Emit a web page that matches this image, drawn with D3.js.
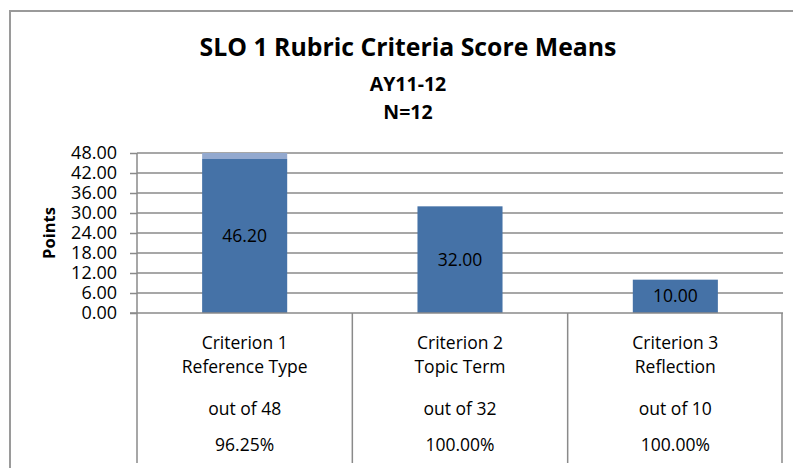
<!DOCTYPE html>
<html>
  <head>
    <meta charset="utf-8" />
    <title>SLO 1 Rubric Criteria Score Means</title>
    <script src="https://d3js.org/d3.v7.min.js"></script>
    <style>
      body { margin: 0; background: #fff; }
      text { font-family: "Open Sans", sans-serif; fill: #000; }
    </style>
  </head>
  <body>
    <svg id="chart" width="793" height="468"></svg>

    <script>
      // Datos
      const criteria = ["Criterion 1", "Criterion 2", "Criterion 3"];
      const topics = ["Reference Type", "Topic Term", "Reflection"];
      const meanScores = [46.2, 32.0, 10.0];
      const missingPoints = [1.8, 0, 0]; // parte clara encima de la barra
      const outOf = [48, 32, 10];
      const percents = ["96.25%", "100.00%", "100.00%"];
      const yTicks = [0, 6, 12, 18, 24, 30, 36, 42, 48];

      const svg = d3.select("#chart");
      const fs = "17.5px";

      // Marco exterior
      svg.append("rect")
        .attr("x", 10).attr("y", 11)
        .attr("width", 900).attr("height", 600)
        .attr("fill", "none")
        .attr("stroke", "#9a9a9a")
        .attr("stroke-width", 2);

      // Títulos
      const titles = [
        { t: "SLO 1 Rubric Criteria Score Means", y: 56, size: 24.8 },
        { t: "AY11-12", y: 91, size: 19.5 },
        { t: "N=12", y: 119, size: 19.5 }
      ];
      svg.selectAll(".title").data(titles).enter()
        .append("text")
        .attr("class", "title")
        .attr("x", 408)
        .attr("y", (d) => d.y)
        .attr("text-anchor", "middle")
        .style("font-weight", "bold")
        .style("font-size", (d) => d.size + "px")
        .text((d) => d.t);

      // Escalas
      const x = d3.scaleBand().domain(criteria).range([137, 783]).padding(0);
      const y = d3.scaleLinear().domain([0, 48]).range([313, 153]);
      const barW = x.bandwidth() * 0.395;

      // Líneas de cuadrícula
      svg.append("g")
        .selectAll("line")
        .data(yTicks.slice(1))
        .enter()
        .append("line")
        .attr("x1", 137).attr("x2", 783)
        .attr("y1", (d) => y(d)).attr("y2", (d) => y(d))
        .attr("stroke", "#8a8a8a")
        .attr("stroke-width", 1.5);

      // Eje Y
      const yAxis = svg.append("g")
        .attr("transform", "translate(137,0)")
        .call(d3.axisLeft(y).tickValues(yTicks).tickSize(7).tickPadding(13)
          .tickFormat(d3.format(".2f")));
      yAxis.select(".domain").remove();
      yAxis.selectAll(".tick line").attr("stroke", "#8a8a8a").attr("stroke-width", 1.5);
      yAxis.selectAll(".tick text")
        .style("font-size", "18px")
        .style("font-family", "'Open Sans', sans-serif")
        .attr("fill", "#000");

      svg.append("text")
        .attr("transform", "translate(49,233) rotate(-90)")
        .attr("text-anchor", "middle")
        .attr("dy", "0.35em")
        .style("font-weight", "bold")
        .style("font-size", "16.5px")
        .text("Points");

      // Barras
      const bars = svg.append("g");
      bars.selectAll(".bar")
        .data(criteria)
        .enter()
        .append("rect")
        .attr("class", "bar")
        .attr("x", (d) => x(d) + (x.bandwidth() - barW) / 2)
        .attr("width", barW)
        .attr("y", (d, i) => y(meanScores[i]))
        .attr("height", (d, i) => y(0) - y(meanScores[i]))
        .attr("fill", "#4572a7");
      bars.selectAll(".bar2")
        .data(criteria)
        .enter()
        .append("rect")
        .attr("class", "bar2")
        .attr("x", (d) => x(d) + (x.bandwidth() - barW) / 2)
        .attr("width", barW)
        .attr("y", (d, i) => y(meanScores[i] + missingPoints[i]))
        .attr("height", (d, i) => y(meanScores[i]) - y(meanScores[i] + missingPoints[i]))
        .attr("fill", "#93a9cf");

      // Etiquetas de datos
      svg.selectAll(".lbl")
        .data(criteria)
        .enter()
        .append("text")
        .attr("class", "lbl")
        .attr("x", (d) => x(d) + x.bandwidth() / 2)
        .attr("y", (d, i) => (y(0) + y(meanScores[i])) / 2)
        .attr("dy", "0.35em")
        .attr("text-anchor", "middle")
        .style("font-size", fs)
        .text((d, i) => d3.format(".2f")(meanScores[i]));

      // Tabla de datos bajo el eje
      const tableTop = 313, tableBottom = 463;
      const grid = svg.append("g").attr("stroke", "#8a8a8a").attr("stroke-width", 1.5);
      grid.append("line").attr("x1", 130).attr("x2", 783).attr("y1", tableTop).attr("y2", tableTop);
      grid.append("line").attr("x1", 137).attr("x2", 137).attr("y1", 153).attr("y2", tableBottom);
      grid.selectAll(".vl")
        .data(criteria.slice(1).concat(["end"]))
        .enter()
        .append("line")
        .attr("x1", (d) => (d === "end" ? 782 : x(d)))
        .attr("x2", (d) => (d === "end" ? 782 : x(d)))
        .attr("y1", tableTop)
        .attr("y2", tableBottom);

      const rows = [
        { vals: criteria, y: 349 },
        { vals: topics, y: 373 },
        { vals: outOf.map((d) => "out of " + d), y: 415 },
        { vals: percents, y: 451 }
      ];
      rows.forEach((r) => {
        svg.append("g")
          .selectAll("text")
          .data(criteria)
          .enter()
          .append("text")
          .attr("x", (d) => x(d) + x.bandwidth() / 2)
          .attr("y", r.y)
          .attr("text-anchor", "middle")
          .style("font-size", fs)
          .text((d, i) => r.vals[i]);
      });
    </script>
  </body>
</html>
